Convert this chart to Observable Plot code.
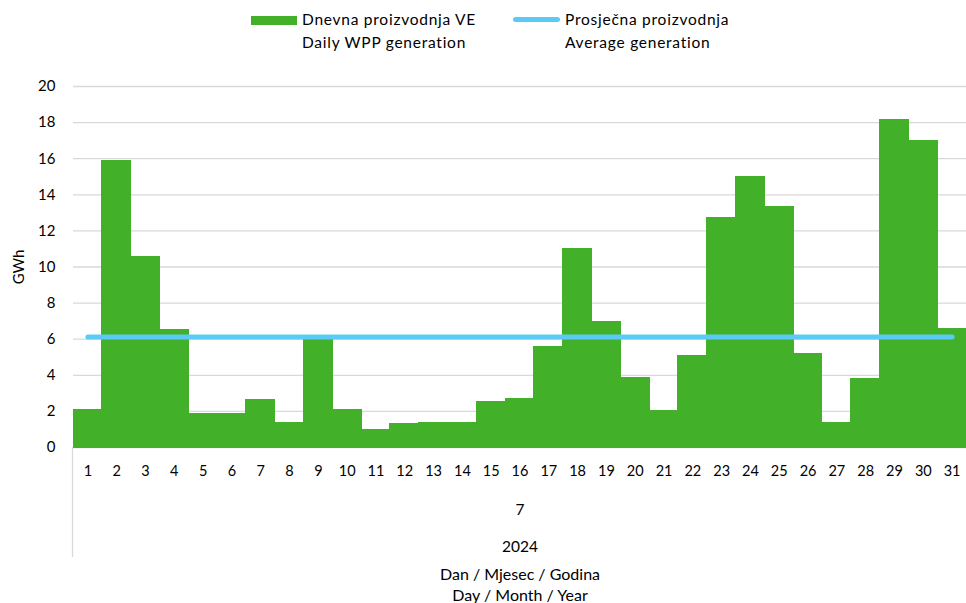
<!DOCTYPE html>
<html>
<head>
<meta charset="utf-8">
<script src="https://cdn.jsdelivr.net/npm/d3@7"></script>
<script src="https://cdn.jsdelivr.net/npm/@observablehq/plot@0.6"></script>
<style>
  html, body { margin: 0; padding: 0; background: #fff; }
  #wrap { width: 966px; height: 603px; position: relative; font-family: Lato, "Open Sans", sans-serif; color: #000; }
  #legend { position: relative; height: 62px; font-size: 15.5px; }
  .sw { position: absolute; }
  .lt { position: absolute; line-height: 23px; letter-spacing: 0.75px; }
  svg { display: block; }
</style>
</head>
<body>
<div id="wrap">
  <div id="legend">
    <div class="sw" style="left:251px; top:16px; width:46px; height:9px; background:#43B02A;"></div>
    <div class="lt" style="left:302px; top:8px;">Dnevna proizvodnja VE<br>Daily WPP generation</div>
    <div class="sw" style="left:513px; top:17px; width:47px; height:5px; border-radius:3px; background:#5BCBF5;"></div>
    <div class="lt" style="left:565px; top:8px;">Prosječna proizvodnja<br>Average generation</div>
  </div>
  <div id="chart"></div>
</div>
<script>
const days = [1,2,3,4,5,6,7,8,9,10,11,12,13,14,15,16,17,18,19,20,21,22,23,24,25,26,27,28,29,30,31];
const generation = [2.06,15.85,10.55,6.5,1.86,1.86,2.62,1.38,6.05,2.06,0.98,1.29,1.38,1.38,2.54,2.69,5.58,11.0,6.97,3.87,2.0,5.05,12.74,14.99,13.35,5.18,1.38,3.78,18.16,17.0,6.58];
const average = 6.12;
const yTicks = [0,2,4,6,8,10,12,14,16,18,20];
const monthLabel = "7";
const yearLabel = "2024";
const axisTitle = ["Dan / Mjesec / Godina", "Day / Month / Year"];

const table = days.map((d, i) => ({day: d, value: generation[i], avg: average}));

const plot = Plot.plot({
  width: 966,
  height: 541,
  marginLeft: 73,
  marginRight: 0,
  marginTop: 24,
  marginBottom: 156,
  x: {type: "band", domain: days, padding: 0, round: false},
  y: {domain: [0, 20]},
  style: {fontFamily: "Lato, 'Open Sans', sans-serif", fontSize: "14px", color: "#000", background: "#fff"},
  marks: [
    Plot.gridY(yTicks, {stroke: "#d9d9d9", strokeOpacity: 1, strokeWidth: 1.3}),
    Plot.barY(table, {x: "day", y: "value", fill: "#43B02A", stroke: "#43B02A", strokeWidth: 1, shapeRendering: "crispEdges"}),
    Plot.lineY(table, {x: "day", y: "avg", stroke: "#5BCBF5", strokeWidth: 5, strokeLinecap: "round"}),
    Plot.axisY(yTicks, {tickSize: 0, tickPadding: 18, fontSize: 15, label: "GWh", labelAnchor: "center", labelArrow: "none", labelOffset: 60}),
    Plot.axisX({tickSize: 0, tickPadding: 18, fontSize: 14.5, label: null}),
    Plot.text([monthLabel], {text: d => d, frameAnchor: "bottom", dy: 67, fontSize: 15.5}),
    Plot.text([yearLabel], {text: d => d, frameAnchor: "bottom", dy: 104, fontSize: 15.5}),
    Plot.text([axisTitle[0]], {text: d => d, frameAnchor: "bottom", dy: 132, fontSize: 16, letterSpacing: "0.6px"}),
    Plot.text([axisTitle[1]], {text: d => d, frameAnchor: "bottom", dy: 153, fontSize: 16, letterSpacing: "0.6px"})
  ]
});

document.getElementById("chart").appendChild(plot);

// decorative category-axis divider at the left edge of the first band
const xs = plot.scale("x"), ys = plot.scale("y");
const x0 = xs.range[0] - 0.5;
const y0 = ys.apply(0);
d3.select(plot).append("line")
  .attr("x1", x0).attr("x2", x0)
  .attr("y1", y0).attr("y2", y0 + 110)
  .attr("stroke", "#d9d9d9").attr("stroke-width", 1.3);
</script>
</body>
</html>
